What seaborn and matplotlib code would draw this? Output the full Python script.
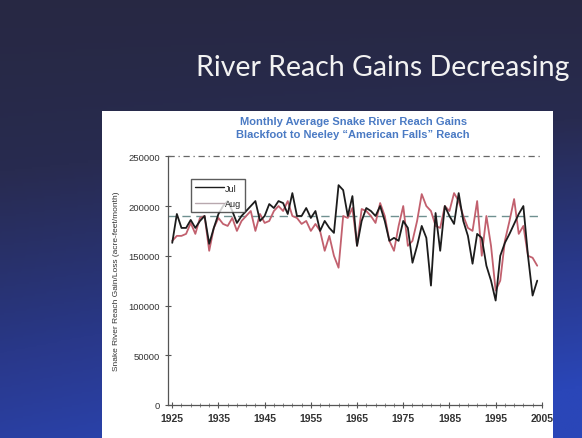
import numpy as np
import pandas as pd
import matplotlib
matplotlib.use("Agg")
import matplotlib.pyplot as plt
from matplotlib.patches import Rectangle
from matplotlib.colors import LinearSegmentedColormap
import seaborn as sns

# Monthly average reach gains, acre-feet/month
years = np.arange(1925, 2005)
jul = [163000, 192000, 178000, 178000, 186000, 178000, 185000, 190000, 162000, 178000,
       192000, 200000, 205000, 195000, 183000, 190000, 195000, 200000, 205000, 185000,
       190000, 202000, 198000, 205000, 203000, 192000, 213000, 190000, 190000, 198000,
       188000, 195000, 175000, 185000, 178000, 173000, 221000, 216000, 190000, 210000,
       160000, 185000, 198000, 195000, 190000, 200000, 185000, 165000, 168000, 165000,
       185000, 178000, 143000, 160000, 180000, 168000, 120000, 193000, 155000, 200000,
       190000, 182000, 213000, 185000, 170000, 142000, 172000, 168000, 140000, 125000,
       105000, 150000, 163000, 172000, 182000, 192000, 200000, 150000, 110000, 125000]
aug = [165000, 170000, 170000, 172000, 183000, 172000, 188000, 190000, 155000, 178000,
       188000, 182000, 180000, 188000, 175000, 185000, 190000, 195000, 175000, 192000,
       183000, 185000, 195000, 200000, 195000, 205000, 190000, 188000, 182000, 185000,
       175000, 182000, 175000, 155000, 170000, 150000, 138000, 190000, 188000, 198000,
       160000, 197000, 195000, 190000, 183000, 203000, 190000, 165000, 155000, 180000,
       200000, 160000, 165000, 185000, 212000, 200000, 195000, 180000, 178000, 200000,
       195000, 213000, 205000, 190000, 178000, 175000, 205000, 150000, 190000, 160000,
       115000, 125000, 165000, 185000, 207000, 172000, 180000, 150000, 148000, 140000]
long_term_avg = 190000

slide_title = "River Reach Gains Decreasing"
chart_title = "Monthly Average Snake River Reach Gains\nBlackfoot to Neeley \u201cAmerican Falls\u201d Reach"
y_label = "Snake River Reach Gain/Loss (acre-feet/month)"
x_ticks = [1925, 1935, 1945, 1955, 1965, 1975, 1985, 1995, 2005]
y_ticks = [0, 50000, 100000, 150000, 200000, 250000]

df = pd.DataFrame({
    "year": np.concatenate([years, years]),
    "gain": jul + aug,
    "month": ["Jul"] * len(years) + ["Aug"] * len(years),
})

sns.set_style("ticks")
plt.rcParams["font.family"] = ["Liberation Sans", "DejaVu Sans"]

fig = plt.figure(figsize=(5.82, 4.39), dpi=100)

# slide background: dark slate at the top shading into blue lower down
bg = fig.add_axes([0, 0, 1, 1], zorder=-10)
bg.axis("off")
ny, nx = 200, 300
yy, xx = np.mgrid[0:1:ny * 1j, 0:1:nx * 1j]
cmap = LinearSegmentedColormap.from_list("slide", ["#27273d", "#282b50", "#293889", "#2a46b8"])
shade = np.clip(0.12 + 0.72 * yy ** 1.3 + 0.3 * xx * yy, 0, 1)
bg.imshow(shade, cmap=cmap, vmin=0, vmax=1, aspect="auto", extent=[0, 1, 1, 0])
bg.set_xlim(0, 1)
bg.set_ylim(1, 0)

fig.text(0.657, 0.845, slide_title, color="#f2f2f2", fontsize=20.5,
         family=["Lato", "DejaVu Sans"], ha="center", va="center")

# white chart panel
fig.patches.append(Rectangle((0.175, 0.0), 0.776, 0.745, transform=fig.transFigure,
                             facecolor="white", edgecolor="none", zorder=-5))

fig.text(0.607, 0.707, chart_title, color="#4a7ac4", fontsize=8, fontweight="bold",
         ha="center", va="center", linespacing=1.35)

ax = fig.add_axes([0.288, 0.0752, 0.643, 0.5665])
ax.set_facecolor("white")
sns.lineplot(data=df, x="year", y="gain", hue="month", hue_order=["Aug", "Jul"],
             palette={"Jul": "#1c1c1c", "Aug": "#c2606e"}, linewidth=1.3, ax=ax,
             legend=False)
ax.axhline(long_term_avg, color="#6f9090", linestyle=(0, (6, 4)), linewidth=1.0, zorder=1)
ax.axhline(250000, color="#666666", linestyle=(0, (5, 3, 1, 3)), linewidth=0.9, clip_on=False)

ax.set_xlim(1924, 2005)
ax.set_ylim(0, 250000)
ax.set_xticks(x_ticks)
ax.set_xticks(np.arange(1925, 2006, 2), minor=True)
ax.set_yticks(y_ticks)
ax.set_xticklabels([str(t) for t in x_ticks], fontsize=7.5, color="#333333", fontweight="bold")
ax.set_yticklabels([str(t) for t in y_ticks], fontsize=6.8, color="#333333")
ax.tick_params(axis="both", direction="inout", length=5, width=0.8, color="#555555", pad=3)
ax.tick_params(axis="x", which="minor", direction="inout", length=3, width=0.6, color="#777777")
ax.set_xlabel("")
ax.set_ylabel(y_label, fontsize=6, color="#333333", labelpad=6)
for side in ("top", "right"):
    ax.spines[side].set_visible(False)
for side in ("left", "bottom"):
    ax.spines[side].set_color("#555555")
    ax.spines[side].set_linewidth(0.9)

# legend box
handles = [plt.Line2D([], [], color="#1c1c1c", lw=1.0),
           plt.Line2D([], [], color="#b8a8ae", lw=1.0)]
leg = ax.legend(handles, ["Jul", "Aug"], loc="upper left", bbox_to_anchor=(0.05, 0.925),
                fontsize=6.5, frameon=True, fancybox=False, edgecolor="#333333",
                handlelength=3.2, handletextpad=0.1, borderpad=0.45, labelspacing=0.7,
                markerfirst=True)
leg.get_frame().set_linewidth(1.0)
leg.set_zorder(5)

fig.savefig("out.png", dpi=100)
